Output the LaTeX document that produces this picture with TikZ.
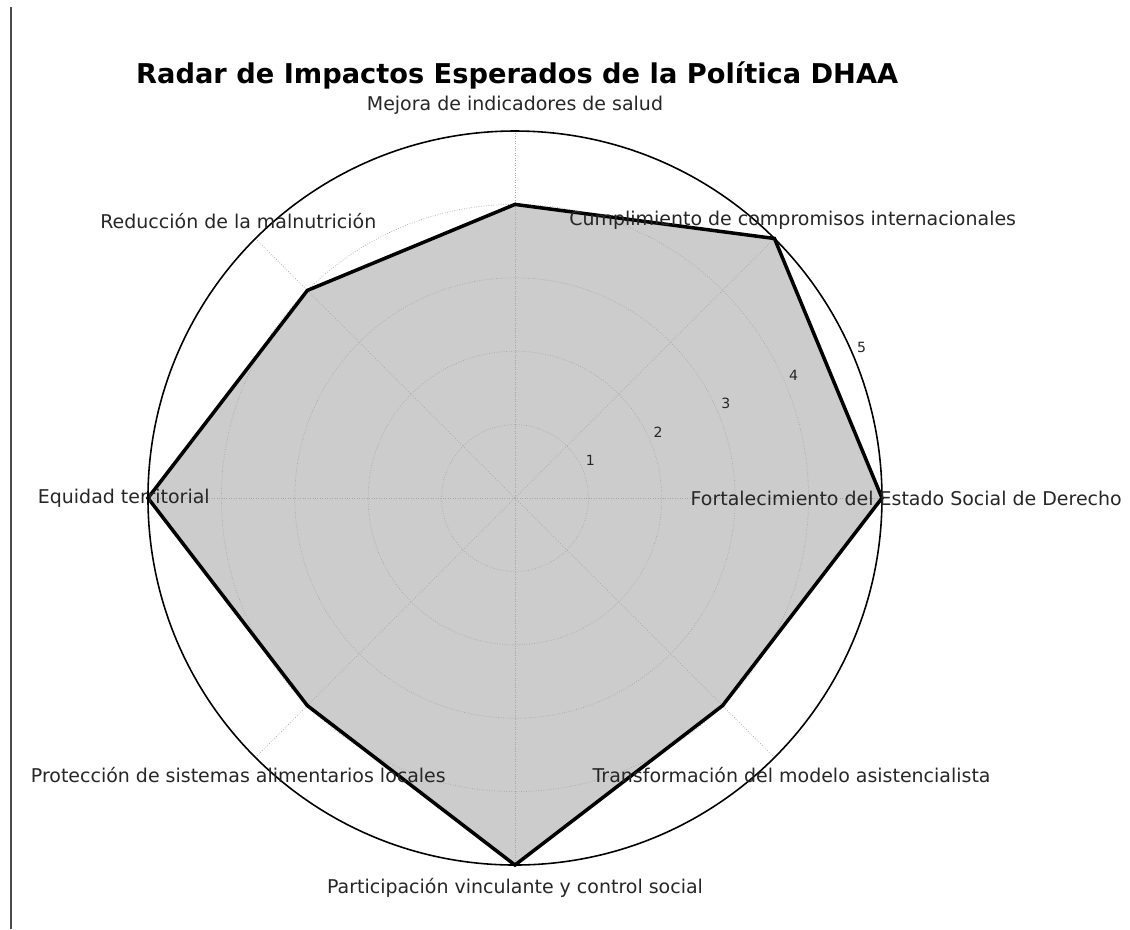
\documentclass[tikz,border=0pt]{standalone}
\usepackage{fontspec}
\setmainfont{DejaVu Sans}
\usepackage{xcolor}
\usetikzlibrary{positioning}
\tikzset{%
	axis label/.style={
		font=\fontsize{10.8}{13}\selectfont,
		text=black!85,
		inner sep=0pt
	},
	tick label/.style={
		font=\fontsize{8}{9}\selectfont,
		text=black!85,
		inner sep=0pt
	},
	grid line/.style={
		draw=gray!70,
		line width=0.4pt,
		densely dotted
	},
}
\begin{document}
\begin{tikzpicture}[x=1.468cm, y=1.468cm]
	\useasboundingbox (-7.016,-5.872) rectangle (8.379,6.785);
	% frame line on the left
	\coordinate (frametop) at (-6.87,6.69);
	\coordinate (framebot) at (-6.87,-5.872);
	\draw[line width=1.2pt, black!70] (frametop) -- (framebot);
	
	% values and spokes
	\coordinate (c) at (0,0);
	\foreach \ang/\val [count=\i] in {0/5, 45/5, 90/4, 135/4, 180/5, 225/4, 270/5, 315/4}{
		\coordinate (p\i) at (\ang:\val);
		\coordinate (s\i) at (\ang:5);
	}
	\fill[gray!40] (p1) -- (p2) -- (p3) -- (p4) -- (p5) -- (p6) -- (p7) -- (p8) -- cycle;
	
	\foreach \r in {1,...,4}
		\draw[grid line] (c) circle (\r);
	\foreach \i in {1,...,8}
		\draw[grid line] (c) -- (s\i);
	
	\draw[black, line width=2pt] (p1) -- (p2) -- (p3) -- (p4) -- (p5) -- (p6) -- (p7) -- (p8) -- cycle;
	\draw[black, line width=0.9pt] (c) circle (5);
	
	% radial ticks
	\foreach \k in {1,...,5}
		\node[tick label, xshift=1.5mm, yshift=2mm] (tick\k) at (22.5:\k) {\k};
	
	\node[font=\bfseries\fontsize{15.5}{18}\selectfont] (title) at (0.03,5.763) {Radar de Impactos Esperados de la Política DHAA};
	
	\node[axis label] (fortalecimiento) at (0:5.33) {Fortalecimiento del Estado Social de Derecho};
	\node[axis label] (cumplimiento) at (45:5.35) {Cumplimiento de compromisos internacionales};
	\node[axis label] (mejora) at (90:5.35) {Mejora de indicadores de salud};
	\node[axis label] (reduccion) at (135:5.33) {Reducción de la malnutrición};
	\node[axis label] (equidad) at (180:5.33) {Equidad territorial};
	\node[axis label] (proteccion) at (225:5.33) {Protección de sistemas alimentarios locales};
	\node[axis label] (participacion) at (270:5.31) {Participación vinculante y control social};
	\node[axis label] (transformacion) at (315:5.33) {Transformación del modelo asistencialista};
\end{tikzpicture}
\end{document}
